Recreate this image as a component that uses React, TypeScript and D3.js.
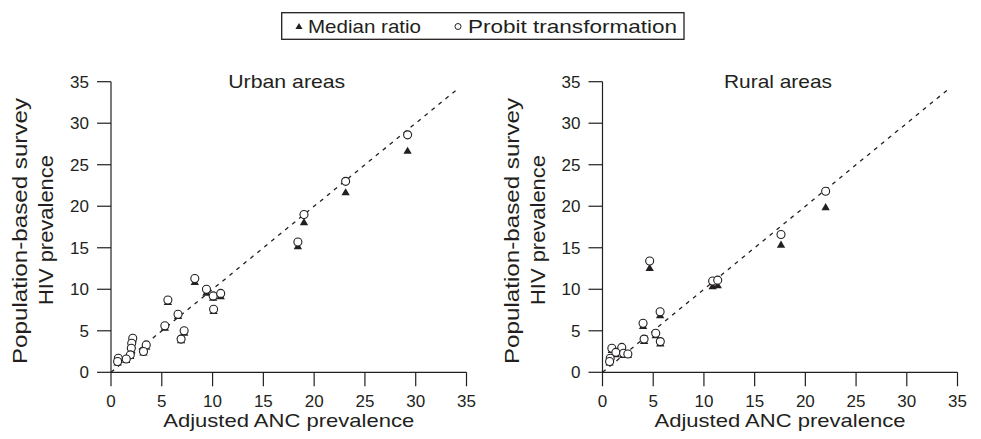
import React from "react";
import * as d3 from "d3";

const ticks = [0, 5, 10, 15, 20, 25, 30, 35];

const urbanX = [29.2, 23.1, 19.0, 18.4, 8.25, 9.4, 10.06, 10.8, 10.1, 5.6, 6.6, 5.3, 7.2, 6.9, 3.47, 3.2, 2.14, 2.04, 2.0, 1.9, 0.72, 1.5, 0.65];
const urbanProbit = [28.6, 23.0, 19.0, 15.7, 11.3, 10.0, 9.2, 9.5, 7.6, 8.7, 7.0, 5.6, 5.0, 4.0, 3.3, 2.5, 4.1, 3.5, 2.9, 2.1, 1.7, 1.6, 1.3];
const urbanMedian = [26.6, 21.6, 18.0, 15.1, 10.8, 9.5, 8.9, 9.1, 7.3, 8.4, 6.7, 5.3, 4.7, 3.8, 3.0, 2.3, 3.9, 3.2, 2.6, 1.9, 1.5, 1.4, 1.1];

const ruralX = [22.0, 17.6, 4.65, 10.86, 11.36, 5.68, 4.0, 4.1, 5.25, 5.7, 0.92, 1.9, 1.32, 2.08, 2.5, 0.76, 0.7];
const ruralProbit = [21.8, 16.6, 13.4, 11.0, 11.1, 7.3, 5.9, 4.0, 4.7, 3.7, 2.9, 3.0, 2.4, 2.3, 2.2, 1.7, 1.3];
const ruralMedian = [19.8, 15.3, 12.5, 10.3, 10.4, 6.8, 5.5, 3.7, 4.4, 3.4, 2.6, 2.7, 2.1, 2.0, 2.0, 1.5, 1.1];

const panels = [
  { title: "Urban areas", titleW: 117, x: urbanX, probit: urbanProbit, median: urbanMedian, left: 111, right: 466.5 },
  { title: "Rural areas", titleW: 108, x: ruralX, probit: ruralProbit, median: ruralMedian, left: 602.5, right: 957.5 },
];

const FONT = "'Liberation Sans', Arial, Helvetica, sans-serif";
const INK = "#231f20";

const tri = d3.symbol().type(d3.symbolTriangle).size(30)() as string;
const triSmall = d3.symbol().type(d3.symbolTriangle).size(22)() as string;

function Panel({ p }: { p: (typeof panels)[number] }) {
  const x = d3.scaleLinear().domain([0, 35]).range([p.left, p.right]);
  const y = d3.scaleLinear().domain([0, 35]).range([372.3, 81.7]);
  const cx = (p.left + p.right) / 2;
  const lx = x(0);
  return (
    <g>
      <text x={cx - 2} y={88} textAnchor="middle" fontSize={18.5} fill={INK} textLength={p.titleW} lengthAdjust="spacingAndGlyphs">{p.title}</text>
      {/* y axis */}
      <line x1={lx} x2={lx} y1={y(35)} y2={y(0)} stroke={INK} strokeWidth={1.2} />
      {ticks.map((t) => (
        <g key={"y" + t}>
          <line x1={lx - 14} x2={lx} y1={y(t)} y2={y(t)} stroke={INK} strokeWidth={1.2} />
          <text x={lx - 22} y={y(t) + 6} textAnchor="end" fontSize={17} fill={INK}>{t}</text>
        </g>
      ))}
      {/* x axis */}
      <line x1={x(0)} x2={x(35)} y1={y(0)} y2={y(0)} stroke={INK} strokeWidth={1.2} />
      {ticks.map((t) => (
        <g key={"x" + t}>
          <line x1={x(t)} x2={x(t)} y1={y(0)} y2={y(0) + 14} stroke={INK} strokeWidth={1.2} />
          <text x={x(t)} y={407} textAnchor="middle" fontSize={17} fill={INK}>{t}</text>
        </g>
      ))}
      <text x={cx} y={427} textAnchor="middle" fontSize={18.5} fill={INK} textLength={251} lengthAdjust="spacingAndGlyphs">Adjusted ANC prevalence</text>
      <text transform={`translate(${lx - 84},231) rotate(-90)`} textAnchor="middle" fontSize={20.5} fill={INK} textLength={266} lengthAdjust="spacingAndGlyphs">Population-based survey</text>
      <text transform={`translate(${lx - 58},230) rotate(-90)`} textAnchor="middle" fontSize={20.5} fill={INK} textLength={150} lengthAdjust="spacingAndGlyphs">HIV prevalence</text>
      {/* identity line */}
      <line x1={x(0)} y1={y(0)} x2={x(34.1)} y2={y(34.1)} stroke={INK} strokeWidth={1.3} strokeDasharray="4,5" />
      {p.x.map((v, i) => (
        <path key={"t" + i} d={tri} transform={`translate(${x(v)},${y(p.median[i])})`} fill={INK} />
      ))}
      {p.x.map((v, i) => (
        <circle key={"c" + i} cx={x(v)} cy={y(p.probit[i])} r={4} fill="white" stroke={INK} strokeWidth={1.1} />
      ))}
    </g>
  );
}

export default function App() {
  return (
    <svg width={981} height={439} style={{ display: "block", position: "absolute", left: 0, top: 0, background: "white" }} fontFamily={FONT}>
      <rect x={0} y={0} width={981} height={439} fill="white" />
      {/* legend */}
      <rect x={281.7} y={12.7} width={402.3} height={26.6} fill="white" stroke={INK} strokeWidth={1.3} />
      <path d={triSmall} transform="translate(299,27)" fill={INK} />
      <text x={308} y={33} fontSize={18.5} fill={INK} textLength={113} lengthAdjust="spacingAndGlyphs">Median ratio</text>
      <circle cx={458} cy={26.5} r={3} fill="white" stroke={INK} strokeWidth={1} />
      <text x={468} y={33} fontSize={18.5} fill={INK} textLength={209} lengthAdjust="spacingAndGlyphs">Probit transformation</text>
      {panels.map((p) => (
        <Panel key={p.title} p={p} />
      ))}
    </svg>
  );
}
